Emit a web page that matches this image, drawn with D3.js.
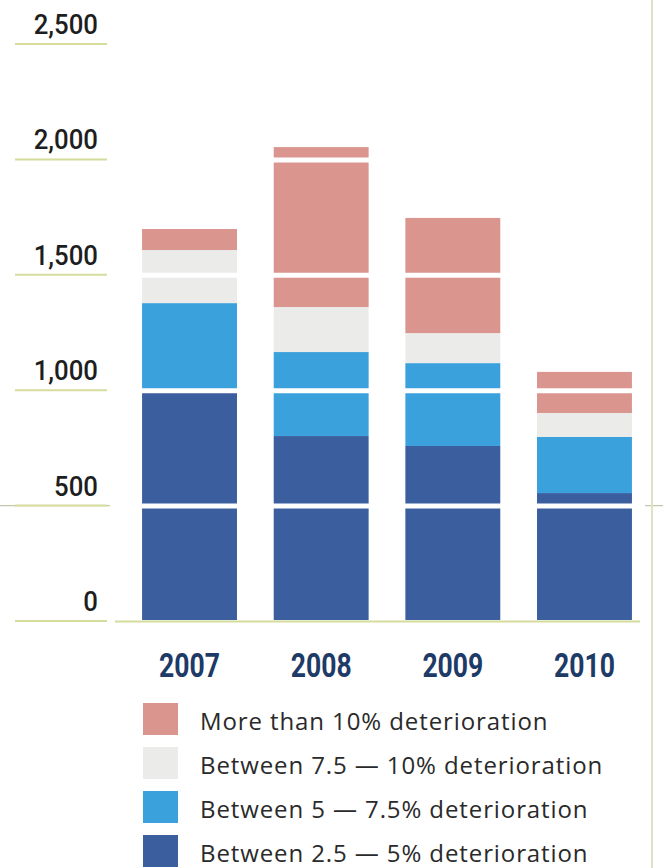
<!DOCTYPE html>
<html>
<head>
<meta charset="utf-8">
<script src="https://cdn.jsdelivr.net/npm/d3@7"></script>
<style>
    body { margin: 0; background: #fff; }
    svg { display: block; }
    .tick-label { font-family: Roboto, sans-serif; font-size: 28px; font-weight: 500; fill: #1e1e1e; }
    .year-label { font-family: Roboto, sans-serif; font-size: 34px; font-weight: bold; fill: #1d3b66; }
    .legend-label { font-family: "Open Sans", sans-serif; font-size: 24px; letter-spacing: 0.9px; fill: #2a2a2a; }
</style>
</head>
<body>
<svg id="chart" width="663" height="868"></svg>
<script>
const years = ["2007", "2008", "2009", "2010"];
const seriesNames = [
    "Between 2.5 — 5% deterioration",
    "Between 5 — 7.5% deterioration",
    "Between 7.5 — 10% deterioration",
    "More than 10% deterioration"
];
const between25to5 = [995, 797, 754, 550];
const between5to75 = [378, 364, 359, 243];
const between75to10 = [230, 195, 130, 104];
const moreThan10 = [91, 693, 499, 178];
const tickValues = [0, 500, 1000, 1500, 2000, 2500];

const colors = ["#3b5f9e", "#3aa1dd", "#ebecea", "#da958f"];

const svg = d3.select("#chart");

const rows = years.map((y, i) => ({
    year: y,
    s0: between25to5[i],
    s1: between5to75[i],
    s2: between75to10[i],
    s3: moreThan10[i]
}));
const keys = ["s0", "s1", "s2", "s3"];
const stacked = d3.stack().keys(keys)(rows);

const x = d3.scaleBand()
    .domain(years)
    .range([121, 653])
    .paddingInner(0.279)
    .paddingOuter(0.16);

const y = d3.scaleLinear()
    .domain([0, 2500])
    .range([620, 43]);

const color = d3.scaleOrdinal().domain(keys).range(colors);

// faint fold line running across the page at 500
svg.append("line")
    .attr("x1", 0).attr("x2", 663)
    .attr("y1", y(500) + 1).attr("y2", y(500) + 1)
    .attr("stroke", "#c3c8ad").attr("stroke-width", 1.2);

// right border
svg.append("line")
    .attr("x1", 652).attr("x2", 652)
    .attr("y1", 0).attr("y2", 868)
    .attr("stroke", "#dfe3c0").attr("stroke-width", 2);

// bars
svg.append("g").selectAll("g")
    .data(stacked)
    .join("g")
    .attr("fill", d => color(d.key))
    .selectAll("rect")
    .data(d => d)
    .join("rect")
    .attr("x", d => x(d.data.year))
    .attr("width", x.bandwidth())
    .attr("y", d => y(d[1]))
    .attr("height", d => y(d[0]) - y(d[1]));

// white gridlines cutting through the bars
svg.append("g").selectAll("line")
    .data(tickValues.filter(v => v > 0 && v < 2500))
    .join("line")
    .attr("x1", 110).attr("x2", 645)
    .attr("y1", d => y(d) + 1.5).attr("y2", d => y(d) + 1.5)
    .attr("stroke", "#fff").attr("stroke-width", 5);

// tick underlines on the left
svg.append("g").selectAll("line")
    .data(tickValues)
    .join("line")
    .attr("x1", 15).attr("x2", 107)
    .attr("y1", d => y(d) + 1).attr("y2", d => y(d) + 1)
    .attr("stroke", "#d6dc9c").attr("stroke-width", 2);

// baseline
svg.append("line")
    .attr("x1", 115).attr("x2", 640)
    .attr("y1", y(0) + 1.5).attr("y2", y(0) + 1.5)
    .attr("stroke", "#d6dc9c").attr("stroke-width", 2);

// tick labels (squeezed a little to look condensed)
svg.append("g").selectAll("text")
    .data(tickValues)
    .join("text")
    .attr("class", "tick-label")
    .attr("transform", d => `translate(98, ${y(d) - 9}) scale(0.92, 1)`)
    .attr("text-anchor", "end")
    .text(d => d3.format(",")(d));

// year labels
svg.append("g").selectAll("text")
    .data(years)
    .join("text")
    .attr("class", "year-label")
    .attr("transform", d => `translate(${x(d) + x.bandwidth() / 2}, 677) scale(0.78, 1)`)
    .attr("text-anchor", "middle")
    .text(d => d);

// legend, top entry first
const legendItems = d3.range(seriesNames.length).reverse();
const legend = svg.append("g").selectAll("g")
    .data(legendItems)
    .join("g")
    .attr("transform", (d, i) => `translate(143, ${730 + i * 44})`);

legend.append("rect")
    .attr("x", 0).attr("y", -27)
    .attr("width", 35).attr("height", 32)
    .attr("fill", d => colors[d]);

legend.append("text")
    .attr("class", "legend-label")
    .attr("x", 57)
    .attr("y", 0)
    .text(d => seriesNames[d]);
</script>
</body>
</html>
